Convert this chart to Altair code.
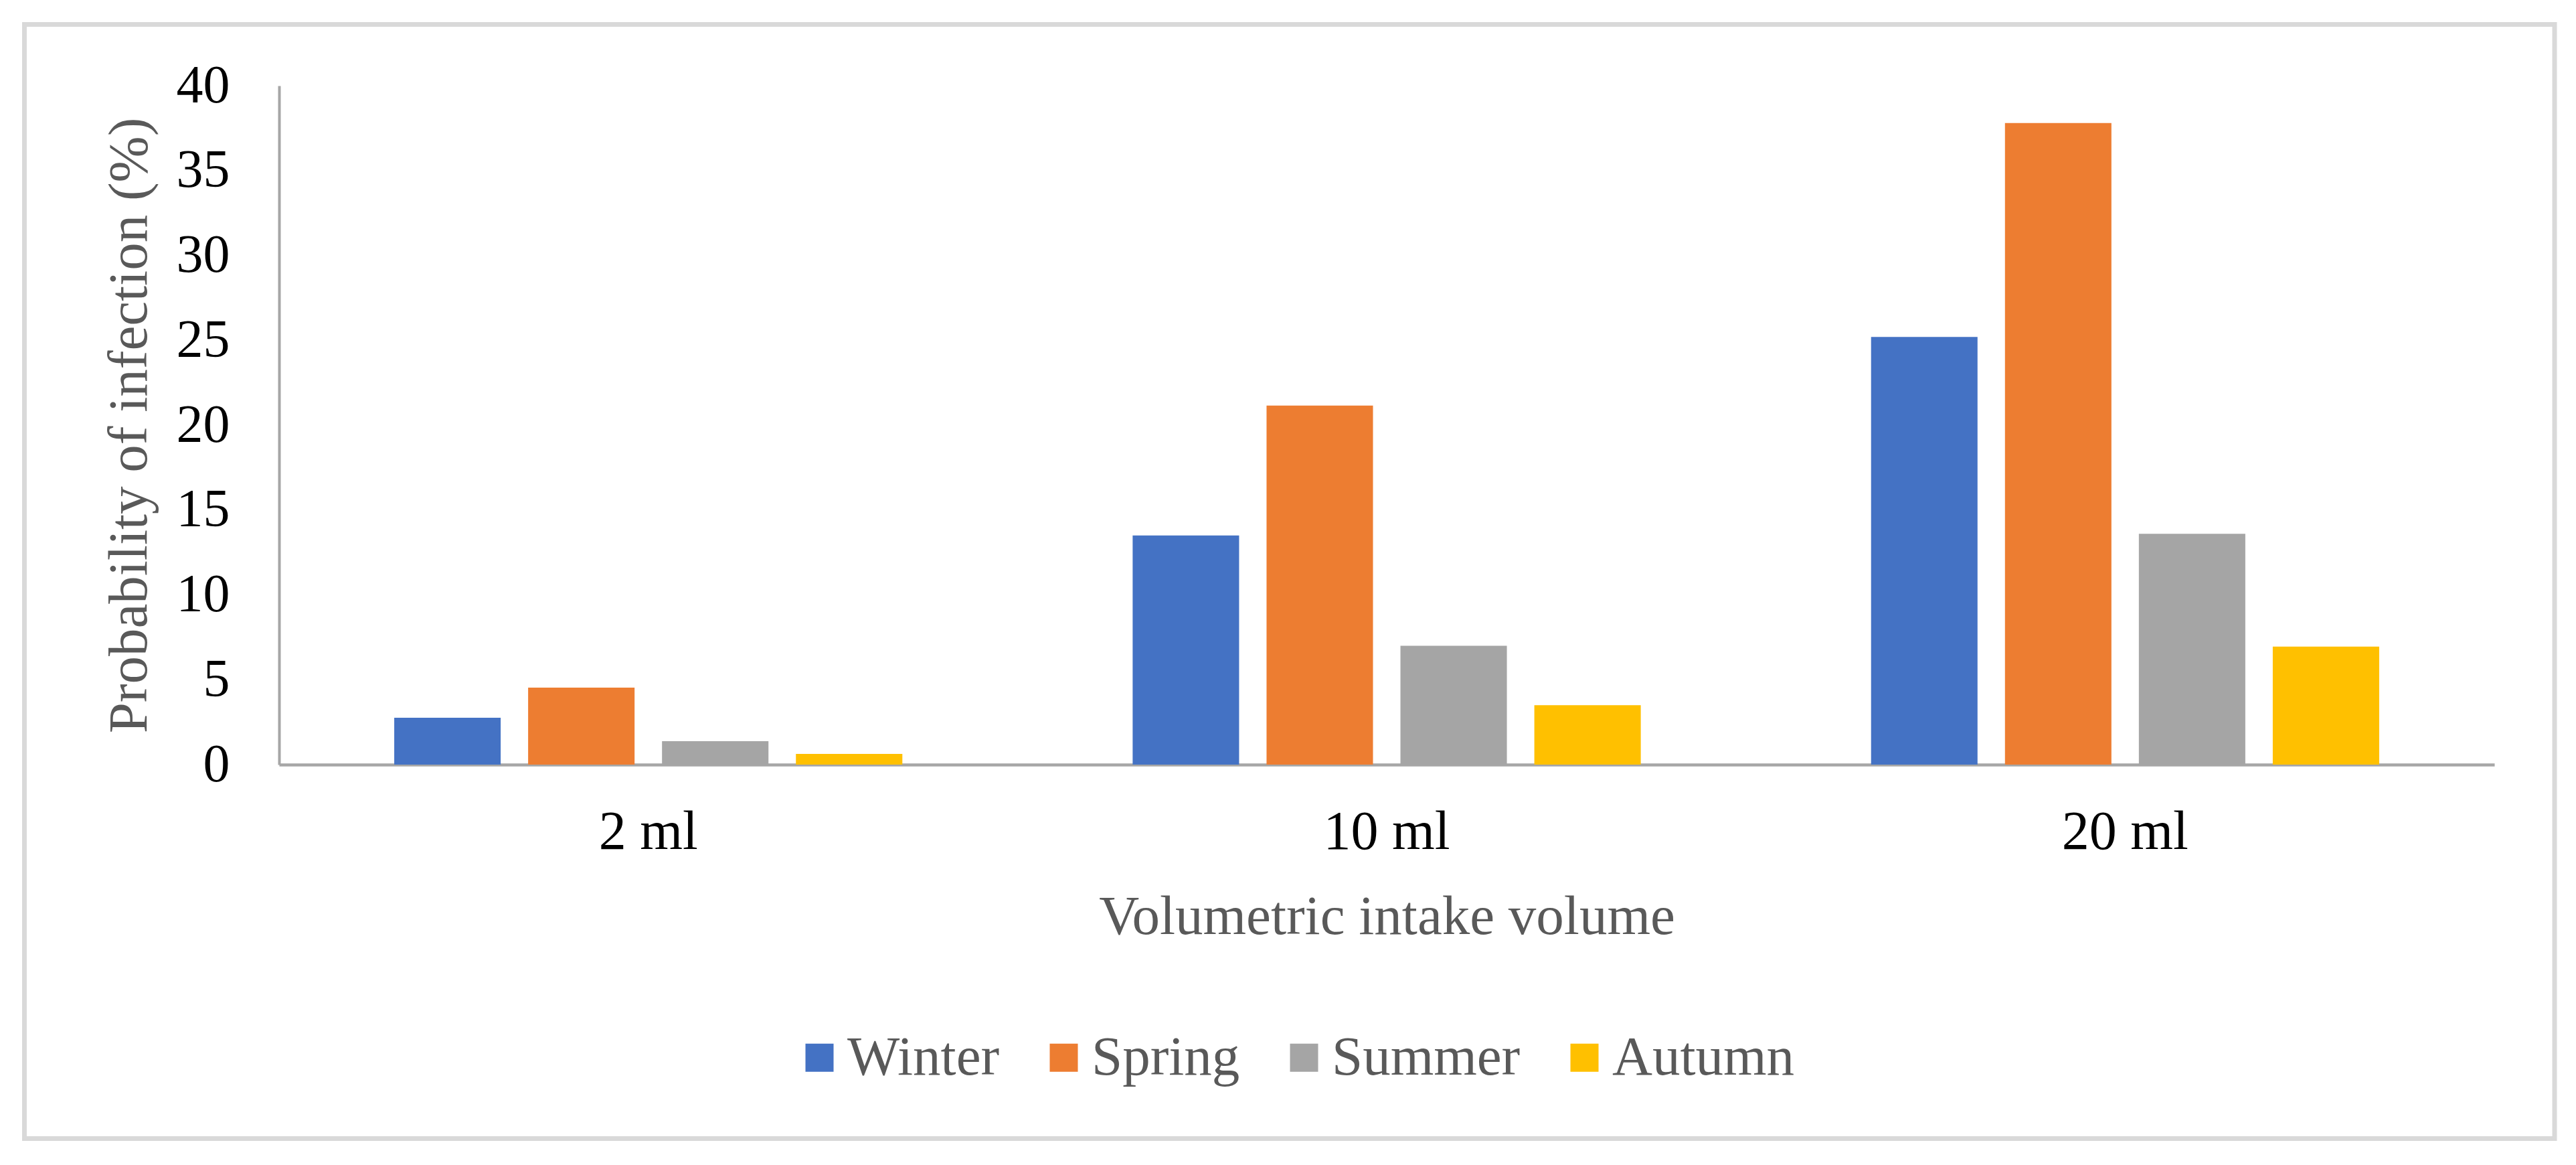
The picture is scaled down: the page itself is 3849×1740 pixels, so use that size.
import altair as alt
import pandas as pd

volumes = ["2 ml", "10 ml", "20 ml"]
seasons = ["Winter", "Spring", "Summer", "Autumn"]
winter = [2.76, 13.5, 25.2]
spring = [4.54, 21.15, 37.8]
summer = [1.38, 7.0, 13.6]
autumn = [0.63, 3.5, 6.95]
colors = ["#4472C4", "#ED7D31", "#A5A5A5", "#FFC000"]

rows = []
for s, vals in zip(seasons, [winter, spring, summer, autumn]):
    for v, val in zip(volumes, vals):
        rows.append({"Volume": v, "Season": s, "Value": val})
df = pd.DataFrame(rows)

FONT = "Liberation Serif"
W, H = 3310, 1014

bars = alt.Chart(df).mark_bar(strokeWidth=0).encode(
    x=alt.X("Volume:N", sort=volumes,
            scale=alt.Scale(paddingInner=0, paddingOuter=0),
            axis=alt.Axis(title="Volumetric intake volume", labelAngle=0,
                          labelFontSize=82, labelColor="#000000", labelFont=FONT,
                          labelPadding=60, ticks=False, labelLimit=1000,
                          domainColor="#A6A6A6", domainWidth=4.5,
                          titleFont=FONT, titleFontSize=83, titleFontWeight="normal",
                          titleColor="#595959", titlePadding=45)),
    xOffset=alt.XOffset("Season:N", sort=seasons,
                        scale=alt.Scale(paddingInner=0.205, paddingOuter=0.86)),
    y=alt.Y("Value:Q", scale=alt.Scale(domain=[0, 40], nice=False),
            axis=alt.Axis(title="Probability of infection (%)", values=list(range(0, 41, 5)),
                          grid=False, ticks=False, labelFontSize=80, labelColor="#000000",
                          labelFont=FONT, labelPadding=74,
                          domainColor="#A6A6A6", domainWidth=4,
                          titleFont=FONT, titleFontSize=83, titleFontWeight="normal",
                          titleColor="#595959", titlePadding=28)),
    color=alt.Color("Season:N", sort=seasons,
                    scale=alt.Scale(domain=seasons, range=colors),
                    legend=alt.Legend(title=None, orient="none", direction="horizontal",
                                      legendX=766, legendY=1410, padding=0,
                                      symbolType="square", symbolSize=1764,
                                      symbolStrokeWidth=0, symbolOpacity=1,
                                      labelFont=FONT, labelFontSize=83,
                                      labelColor="#595959", labelOffset=0,
                                      columnPadding=54, labelLimit=1000)),
)

frame = alt.Chart(pd.DataFrame({"a": [0]})).mark_rect(
    fill=None, stroke="#D9D9D9", strokeWidth=7
).encode(
    x=alt.value(36.5 - 417), x2=alt.value(3817 - 417),
    y=alt.value(36.5 - 128), y2=alt.value(1700.5 - 128),
)

chart = alt.layer(frame, bars).properties(
    width=W, height=H,
    background="white",
    autosize=alt.AutoSizeParams(type="none"),
    padding={"left": 409, "top": 120, "right": 114, "bottom": 590},
).configure_view(stroke="transparent", strokeWidth=0)

chart.save("out.html", embed_options={"renderer": "svg", "actions": False})
